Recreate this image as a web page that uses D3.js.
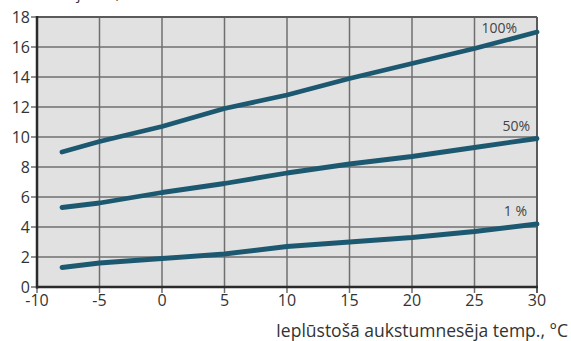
<!DOCTYPE html>
<html><head><meta charset="utf-8">
<script src="https://cdn.jsdelivr.net/npm/d3@7/dist/d3.min.js"></script>
<style>body{margin:0;background:#fff;}svg{display:block;font-family:"Open Sans","DejaVu Sans",sans-serif;}</style>
</head><body>
<svg id="c" width="571" height="341"></svg>
<script>
const xTicks = [-10,-5,0,5,10,15,20,25,30];
const yTicks = [0,2,4,6,8,10,12,14,16,18];
const temps = [-8,-5,0,5,10,15,20,25,30];
const s100 = [9.0,9.7,10.7,11.9,12.8,13.9,14.9,15.9,17.0];
const s50 = [5.3,5.6,6.3,6.9,7.6,8.2,8.7,9.3,9.9];
const s1 = [1.3,1.6,1.9,2.2,2.7,3.0,3.3,3.7,4.2];
const seriesLabels = ["100%","50%","1 %"];
const yTitle = "Sildīšanas jauda, kW";
const xTitle = "Ieplūstošā aukstumnesēja temp., °C";

const svg = d3.select("#c");
const L=37,R=537,T=17,B=287;
const x = d3.scaleLinear().domain([-10,30]).range([L,R]);
const y = d3.scaleLinear().domain([0,18]).range([B,T]);

svg.append("rect").attr("x",L).attr("y",T).attr("width",R-L).attr("height",B-T).attr("fill","#e1e1e1");
const g = svg.append("g");
g.selectAll(".vg").data(xTicks.slice(1,-1)).join("line")
 .attr("x1",d=>x(d)).attr("x2",d=>x(d)).attr("y1",T).attr("y2",B+6)
 .attr("stroke","#6f6f6f").attr("stroke-width",1.5);
g.selectAll(".hg").data(yTicks.slice(1,-1)).join("line")
 .attr("x1",L-6).attr("x2",R).attr("y1",d=>y(d)).attr("y2",d=>y(d))
 .attr("stroke","#6f6f6f").attr("stroke-width",1.5);
svg.append("line").attr("x1",L).attr("x2",R).attr("y1",T).attr("y2",T).attr("stroke","#5a5a5a").attr("stroke-width",2);
svg.append("line").attr("x1",R).attr("x2",R).attr("y1",T).attr("y2",B+6).attr("stroke","#5a5a5a").attr("stroke-width",2);
svg.append("line").attr("x1",L-6).attr("x2",L).attr("y1",T).attr("y2",T).attr("stroke","#6f6f6f").attr("stroke-width",1.5);
svg.append("line").attr("x1",L-6).attr("x2",L).attr("y1",B).attr("y2",B).attr("stroke","#6f6f6f").attr("stroke-width",1.5);
svg.append("line").attr("x1",L).attr("x2",L).attr("y1",B).attr("y2",B+6).attr("stroke","#6f6f6f").attr("stroke-width",1.5);

const line = d3.line().x((d,i)=>x(temps[i])).y(d=>y(d));
[s100,s50,s1].forEach(s=>{
  svg.append("path").attr("d",line(s)).attr("fill","none").attr("stroke","#1c5970")
   .attr("stroke-width",4.8).attr("stroke-linecap","round").attr("stroke-linejoin","round");
});
svg.append("line").attr("x1",L).attr("x2",L).attr("y1",T-1).attr("y2",B+1.5).attr("stroke","#2b2b2b").attr("stroke-width",2.5);
svg.append("line").attr("x1",L-1).attr("x2",R+1).attr("y1",B).attr("y2",B).attr("stroke","#2b2b2b").attr("stroke-width",2.5);

svg.selectAll(".yl").data(yTicks).join("text").attr("x",L-7).attr("y",d=>y(d)+5.8)
 .attr("text-anchor","end").attr("font-size",16).attr("fill","#333").text(d=>d);
svg.selectAll(".xl").data(xTicks).join("text").attr("x",d=>x(d)).attr("y",B+19)
 .attr("text-anchor","middle").attr("font-size",16).attr("fill","#333").text(d=>d);

const labelPos = [[x(30)-20,y(16.93)],[x(30)-7,y(10.4)],[x(30)-10,y(4.73)]];
seriesLabels.forEach((t,i)=>{
  svg.append("text").attr("x",labelPos[i][0]).attr("y",labelPos[i][1]).attr("text-anchor","end")
   .attr("font-size",14).attr("fill","#444").text(t);
});
svg.append("text").attr("x",568).attr("y",337).attr("text-anchor","end").attr("font-size",17.5).attr("fill","#333").text(xTitle);
svg.append("text").attr("x",4).attr("y",-1).attr("font-size",15).attr("fill","#333").text(yTitle);
</script>
</body></html>
